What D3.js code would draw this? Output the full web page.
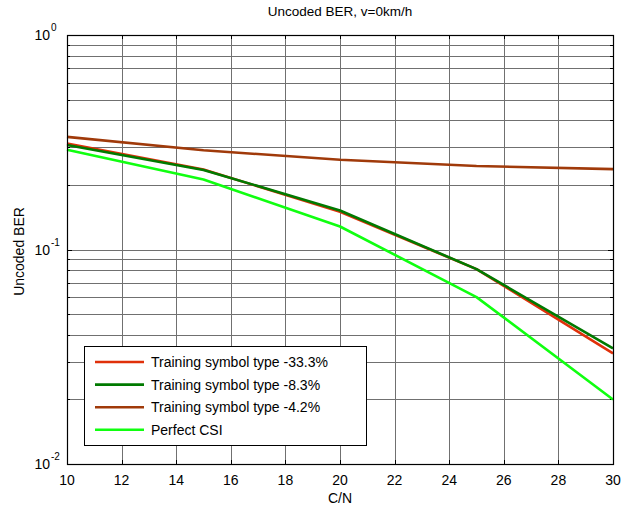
<!DOCTYPE html>
<html><head><meta charset="utf-8">
<script src="https://d3js.org/d3.v7.min.js"></script>
<style>body{margin:0;background:#fff;} svg{display:block;font-family:"Liberation Sans",Arial,sans-serif;}</style>
</head><body>
<svg id="c" width="621" height="507"></svg>
<script>
const cn = [10, 15, 20, 25, 30];
const ser33 = [0.312, 0.236, 0.150, 0.081, 0.0328];
const ser8 = [0.307, 0.235, 0.152, 0.081, 0.0346];
const ser4 = [0.335, 0.290, 0.262, 0.245, 0.237];
const perfect = [0.292, 0.212, 0.128, 0.060, 0.0200];
const seriesNames = ["Training symbol type -33.3%", "Training symbol type -8.3%", "Training symbol type -4.2%", "Perfect CSI"];
const seriesColors = ["#e0300a", "#007a00", "#a03a0a", "#10ff10"];
const xTicks = [10,12,14,16,18,20,22,24,26,28,30];
const yDecades = [1, 0.1, 0.01];
const yExp = ["0", "-1", "-2"];

const allSeries = [ser33, ser8, ser4, perfect];
const svg = d3.select("#c");
const L = 67, R = 613, T = 35, B = 464;
const x = d3.scaleLinear().domain([10,30]).range([L,R]);
const y = d3.scaleLog().domain([0.01,1]).range([B,T]);

// grid
const minor = [];
[0.01,0.1].forEach(d=>{ for(let k=1;k<10;k++) minor.push(d*k); });
minor.push(1);
const g = svg.append("g");
g.selectAll(".hg").data(minor).enter().append("line")
  .attr("x1",L).attr("x2",R).attr("y1",d=>Math.round(y(d))+0.5).attr("y2",d=>Math.round(y(d))+0.5)
  .attr("stroke","#707070").attr("stroke-width",1);
g.selectAll(".vg").data(xTicks).enter().append("line")
  .attr("y1",T).attr("y2",B).attr("x1",d=>Math.round(x(d))+0.5).attr("x2",d=>Math.round(x(d))+0.5)
  .attr("stroke","#707070").attr("stroke-width",1);

// ticks inside
const tk = svg.append("g").attr("stroke","#000");
xTicks.forEach(d=>{
  const xx=Math.round(x(d))+0.5;
  tk.append("line").attr("x1",xx).attr("x2",xx).attr("y1",B).attr("y2",B-4);
  tk.append("line").attr("x1",xx).attr("x2",xx).attr("y1",T).attr("y2",T+4);
});
minor.forEach(d=>{
  const yy=Math.round(y(d))+0.5;
  const len = yDecades.includes(+d.toPrecision(3)) ? 5 : 3;
  tk.append("line").attr("x1",L).attr("x2",L+len).attr("y1",yy).attr("y2",yy);
  tk.append("line").attr("x1",R).attr("x2",R-len).attr("y1",yy).attr("y2",yy);
});

// lines
const line = d3.line().x((d,i)=>x(cn[i])).y(d=>y(d));
allSeries.forEach((s,i)=>{
  svg.append("path").datum(s).attr("d",line).attr("fill","none")
    .attr("stroke",seriesColors[i]).attr("stroke-width",2.6).attr("stroke-linejoin","round");
});

// axes box
svg.append("rect").attr("x",L+0.5).attr("y",T+0.5).attr("width",R-L).attr("height",B-T)
  .attr("fill","none").attr("stroke","#000").attr("stroke-width",1.2);

// x tick labels
svg.selectAll(".xl").data(xTicks).enter().append("text")
  .attr("x",d=>x(d)).attr("y",B+21).attr("text-anchor","middle")
  .attr("font-size",14).text(d=>d);
// y tick labels
yDecades.forEach((d,i)=>{
  svg.append("text").attr("x",L-17).attr("y",y(d)+5).attr("text-anchor","end").attr("font-size",14).text("10");
  svg.append("text").attr("x",L-16).attr("y",y(d)-4).attr("font-size",10).text(yExp[i]);
});

// titles
svg.append("text").attr("x",(L+R)/2).attr("y",16).attr("text-anchor","middle").attr("font-size",13.5).text("Uncoded BER, v=0km/h");
svg.append("text").attr("x",(L+R)/2).attr("y",503).attr("text-anchor","middle").attr("font-size",14).text("C/N");
svg.append("text").attr("transform",`translate(24,${(T+B)/2 + 2}) rotate(-90)`).attr("text-anchor","middle").attr("font-size",14).text("Uncoded BER");

// legend
const lg = svg.append("g");
lg.append("rect").attr("x",84.5).attr("y",346.5).attr("width",282).attr("height",99)
  .attr("fill","#fff").attr("stroke","#000").attr("stroke-width",1);
seriesNames.forEach((n,i)=>{
  const yy = 362 + i*22.6;
  lg.append("line").attr("x1",95).attr("x2",144).attr("y1",yy).attr("y2",yy)
    .attr("stroke",seriesColors[i]).attr("stroke-width",2.6);
  lg.append("text").attr("x",151).attr("y",yy+5).attr("font-size",14).text(n);
});
</script>
</body></html>
